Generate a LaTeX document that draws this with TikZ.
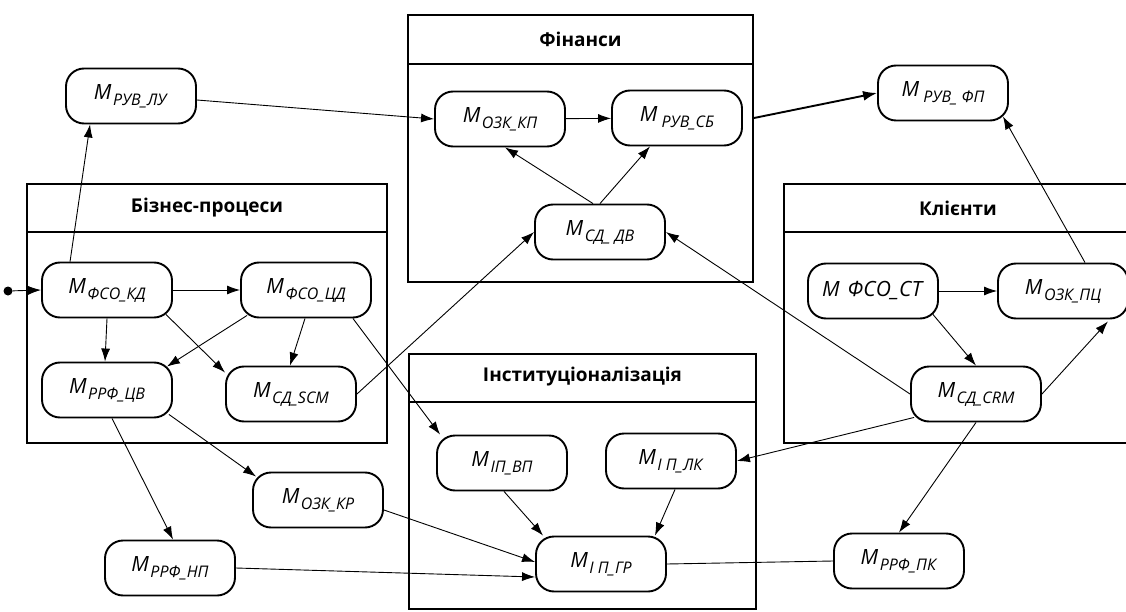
\documentclass[tikz,border=0pt]{standalone}
\usepackage{fontspec}
\setmainfont{Open Sans}
\usetikzlibrary{arrows.meta,positioning}

\newcommand{\mlab}[1]{\textit{M}\hspace{1.5pt}\raisebox{-6pt}{\fontsize{16}{16}\selectfont\textit{#1}}}

\tikzset{
  model/.style={draw, line width=1.9pt, rounded corners=18pt, minimum width=130pt,
    minimum height=55pt, inner sep=0pt, font=\fontsize{21}{21}\selectfont},
  frame/.style={draw, line width=2pt, inner sep=0pt},
  title/.style={font=\fontsize{19}{19}\selectfont\bfseries},
  flow/.style={line width=0.9pt, -{Latex[length=13pt,width=9pt]}},
  bold flow/.style={line width=1.9pt, -{Latex[length=14pt,width=10pt]}},
}

\begin{document}
\begin{tikzpicture}[x=1pt,y=-1pt]
  \useasboundingbox (0,0) rectangle (1126,612);
  \clip (0,0) rectangle (1126,612);
  \fill[white] (0,0) rectangle (1126,612);

  % frames
  \node[frame, minimum width=360pt, minimum height=259pt] (bp) at (207,313.5) {};
  \draw[frame] ([yshift=-49pt]bp.north west) -- ([yshift=-49pt]bp.north east);
  \node[title] at ([yshift=-25pt]bp.north) {Бізнес-процеси};

  \node[frame, minimum width=345pt, minimum height=267pt] (fin) at (580.5,148.5) {};
  \draw[frame] ([yshift=-50pt]fin.north west) -- ([yshift=-50pt]fin.north east);
  \node[title] at ([yshift=-25pt]fin.north) {Фінанси};

  \node[frame, minimum width=348pt, minimum height=259pt] (kl) at (958,313.5) {};
  \draw[frame] ([yshift=-49pt]kl.north west) -- ([yshift=-49pt]kl.north east);
  \node[title] at ([yshift=-25pt]kl.north) {Клієнти};

  \node[frame, minimum width=347pt, minimum height=255pt] (inst) at (582.5,481.5) {};
  \draw[frame] ([yshift=-49pt]inst.north west) -- ([yshift=-49pt]inst.north east);
  \node[title] at ([yshift=-24pt]inst.north) {Інституціоналізація};

  % models
  \node[model] (rly)  at (131,96)  {\mlab{РУВ\_ЛУ}};
  \node[model] (ozkp) at (500,119) {\mlab{ОЗК\_КП}};
  \node[model] (rsb)  at (677,118) {\mlab{\,РУВ\_СБ}};
  \node[model] (sdv)  at (600,232) {\mlab{СД\_ ДВ}};
  \node[model] (rfp)  at (943,93)  {\mlab{\,РУВ\_ ФП}};
  \node[model] (fst)  at (873,291) {\textit{M\hspace{8pt}ФСО\_СТ}};
  \node[model] (ozpc) at (1063,291) {\mlab{ОЗК\_ПЦ}};
  \node[model] (fkd)  at (107,290) {\mlab{ФСО\_КД}};
  \node[model] (fcd)  at (306,290) {\mlab{ФСО\_ЦД}};
  \node[model] (rcv)  at (107,390) {\mlab{РРФ\_ЦВ}};
  \node[model] (scm)  at (291,394) {\mlab{СД\_SCM}};
  \node[model] (ivp)  at (502,463) {\mlab{ІП\_ВП}};
  \node[model] (ilk)  at (671,461) {\mlab{І П\_ЛК}};
  \node[model] (igr)  at (601,564) {\mlab{І П\_ГР}};
  \node[model] (crm)  at (976,394) {\mlab{СД\_CRM}};
  \node[model] (rpk)  at (899,561) {\mlab{РРФ\_ПК}};
  \node[model] (ozkr) at (318,500) {\mlab{ОЗК\_КР}};
  \node[model] (rnp)  at (170,568) {\mlab{РРФ\_НП}};

  \node[circle, fill, inner sep=0pt, minimum size=9pt] (st) at (8,291) {};

  % connections
  \draw[flow] (st) -- (fkd.west);
  \draw[flow] ([xshift=29pt]fkd.north west) -- ([xshift=25pt]rly.south west);
  \draw[flow] ([yshift=-4pt]rly.east) -- (ozkp.west);
  \draw[flow] (ozkp) -- (rsb);
  \draw[flow] ([xshift=-7pt]sdv.north) -- ([xshift=5pt]ozkp.south);
  \draw[flow] (sdv.north) -- ([xshift=-27pt]rsb.south);
  \draw[bold flow] (fin.east |- rsb.east) -- (rfp.west);
  \draw[flow] ([xshift=22pt]ozpc.north) -- ([xshift=-6pt,yshift=5pt]rfp.south east);
  \draw[flow] (fst) -- (ozpc);
  \draw[flow] ([xshift=-6pt,yshift=5pt]fst.south east) -- (crm.north);
  \draw[flow] (crm.east) -- ([xshift=-21pt,yshift=-2pt]ozpc.south east);
  \draw[flow] (crm.west) -- (sdv.east);
  \draw[flow] ([xshift=4pt,yshift=5pt]crm.south west) -- (ilk.east);
  \draw[flow] (crm.south) -- (rpk.north);
  \draw[line width=0.9pt] (rpk.west) -- (igr.east);
  \draw[flow] (fkd) -- (fcd);
  \draw[flow] (fkd.south) -- ([xshift=-2pt]rcv.north);
  \draw[flow] ([xshift=-7pt,yshift=4pt]fkd.south east) -- ([yshift=-7pt]scm.north west);
  \draw[flow] ([xshift=7pt,yshift=3pt]fcd.south west) -- ([xshift=-6pt,yshift=-5pt]rcv.north east);
  \draw[flow] ([xshift=-1pt]fcd.south) -- ([xshift=-1pt]scm.north);
  \draw[flow] ([xshift=-19pt]fcd.south east) -- ([xshift=4pt]ivp.north west);
  \draw[flow] (scm.east) -- (sdv.west);
  \draw[flow] ([xshift=5pt]rcv.south) -- ([xshift=3pt]rnp.north);
  \draw[flow] ([xshift=-4pt,yshift=4pt]rcv.south east) -- ([xshift=4pt,yshift=-5pt]ozkr.north west);
  \draw[flow] ([yshift=-10pt]ozkr.east) -- ([yshift=2pt]igr.west);
  \draw[flow] (rnp.east) -- ([yshift=-13pt]igr.west);
  \draw[flow] ([xshift=2pt]ivp.south) -- ([xshift=8pt]igr.north west);
  \draw[flow] ([xshift=4pt]ilk.south) -- ([xshift=-12pt]igr.north east);
\end{tikzpicture}
\end{document}
